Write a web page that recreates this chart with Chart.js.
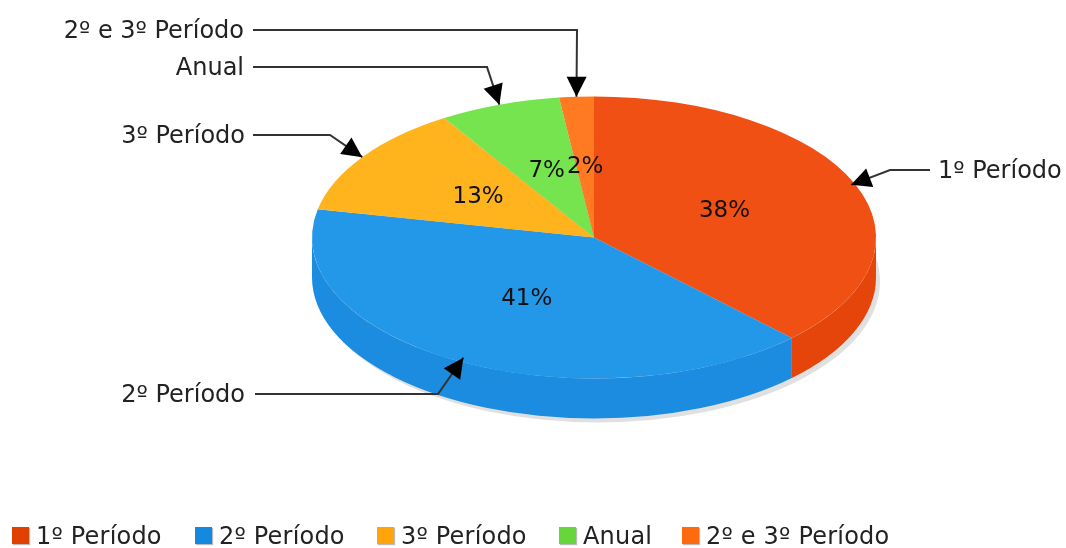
<!DOCTYPE html>
<html>
<head>
<meta charset="utf-8">
<style>
  html, body { margin: 0; padding: 0; background: #fff; }
  #wrap { position: relative; width: 1066px; height: 548px; overflow: hidden; }
  #legend { font: 24px "DejaVu Sans", sans-serif; color: #222; white-space: nowrap; letter-spacing: 0.2px; }
  .item { position: absolute; top: 521px; height: 30px; display: flex; align-items: center; }
  .box { width: 17px; height: 17px; margin-right: 7px; margin-top: -1px; box-shadow: 1px 1px 1px #bbb; }
</style>
</head>
<body>
<div id="wrap">
  <canvas id="chart" width="1066" height="548"></canvas>
  <div id="legend"></div>
</div>
<script src="https://cdn.jsdelivr.net/npm/chart.js@4/dist/chart.umd.js"></script>
<script>
// Chart data
const categories = ['1º Período', '2º Período', '3º Período', 'Anual', '2º e 3º Período'];
const values = [38, 41, 13, 7, 2];

// Slice colours: top surface, side wall, legend box
const topColors = ['#F05014', '#2398E8', '#FFB31D', '#76E44E', '#FF7A20'];
const wallColors = ['#E5450A', '#1B8CE0', '#F5A50F', '#66D63A', '#F56A10'];
const legendColors = ['#E04000', '#1588E0', '#FFA40A', '#66D63A', '#FF6A10'];

// Where the flattened pie sits on the page
const pie = { cx: 594, cy: 237.5, rx: 282, ry: 141, depth: 40 };

// Callout text, elbow and arrow reach for each category
const callouts = [
  { x: 938, y: 170, elbowX: 890, lineX: 930, tip: 0.985, align: 'left' },
  { x: 245, y: 394, elbowX: 438, lineX: 255, tip: 0.97, align: 'right' },
  { x: 245, y: 135, elbowX: 330, lineX: 253, tip: 1, align: 'right' },
  { x: 244, y: 67, elbowX: 487, lineX: 253, tip: 1, align: 'right' },
  { x: 244, y: 30, elbowX: 577, lineX: 253, tip: 1, align: 'right' }
];

// Left edge of each legend entry
const legendX = [12, 195, 377, 559, 682];

// Point on the top ellipse for an angle and a fraction of the radius
function ellipsePoint(angle, fraction) {
  return {
    x: pie.cx + pie.rx * fraction * Math.cos(angle),
    y: pie.cy + pie.ry * fraction * Math.sin(angle)
  };
}

// Shadow and side wall, drawn before the slices
function drawWalls(ctx, arcs) {
  ctx.fillStyle = '#E0E0E0';
  ctx.beginPath();
  ctx.ellipse(pie.cx + 4, pie.cy + pie.depth + 4, pie.rx, pie.ry, 0, 0, Math.PI * 2);
  ctx.fill();

  arcs.forEach((arc, i) => {
    const start = Math.max(arc.startAngle, 0);
    const end = Math.min(arc.endAngle, Math.PI);
    if (end <= start) return;
    ctx.fillStyle = wallColors[i];
    ctx.beginPath();
    ctx.ellipse(pie.cx, pie.cy, pie.rx, pie.ry, 0, start, end);
    ctx.ellipse(pie.cx, pie.cy + pie.depth, pie.rx, pie.ry, 0, end, start, true);
    ctx.closePath();
    ctx.fill();
  });
}

function drawArrow(ctx, from, tip) {
  const a = Math.atan2(tip.y - from.y, tip.x - from.x);
  const len = 20, half = 10;
  const bx = tip.x - len * Math.cos(a), by = tip.y - len * Math.sin(a);
  ctx.fillStyle = '#000';
  ctx.beginPath();
  ctx.moveTo(tip.x, tip.y);
  ctx.lineTo(bx - half * Math.sin(a), by + half * Math.cos(a));
  ctx.lineTo(bx + half * Math.sin(a), by - half * Math.cos(a));
  ctx.closePath();
  ctx.fill();
}

// Percent labels and the callouts with their arrows
function drawLabels(ctx, arcs) {
  ctx.textBaseline = 'middle';

  ctx.font = '23px "DejaVu Sans", sans-serif';
  ctx.textAlign = 'center';
  ctx.fillStyle = '#111';
  arcs.forEach((arc, i) => {
    const mid = (arc.startAngle + arc.endAngle) / 2;
    const p = ellipsePoint(mid, 0.5);
    ctx.fillText(values[i] + '%', p.x, p.y);
  });

  ctx.font = '24px "DejaVu Sans", sans-serif';
  callouts.forEach((c, i) => {
    const mid = (arcs[i].startAngle + arcs[i].endAngle) / 2;
    const tip = ellipsePoint(mid, c.tip);
    const elbow = { x: c.elbowX, y: c.y };

    ctx.strokeStyle = '#333';
    ctx.lineWidth = 2;
    ctx.beginPath();
    ctx.moveTo(c.lineX, c.y);
    ctx.lineTo(elbow.x, elbow.y);
    ctx.lineTo(tip.x, tip.y);
    ctx.stroke();
    drawArrow(ctx, elbow, tip);

    ctx.fillStyle = '#222';
    ctx.textAlign = c.align;
    ctx.fillText(categories[i], c.x, c.y + 2);
  });
}

// Flattens the pie controller's arcs into the tilted pie
const tiltPlugin = {
  id: 'tilt',
  beforeDatasetsDraw(chart) {
    const ctx = chart.ctx;
    const arcs = chart.getDatasetMeta(0).data;
    const first = arcs[0];
    ctx.save();
    drawWalls(ctx, arcs);
    ctx.translate(pie.cx, pie.cy);
    ctx.scale(pie.rx / first.outerRadius, pie.ry / first.outerRadius);
    ctx.translate(-first.x, -first.y);
  },
  afterDatasetsDraw(chart) {
    chart.ctx.restore();
    drawLabels(chart.ctx, chart.getDatasetMeta(0).data);
  }
};

new Chart(document.getElementById('chart'), {
  type: 'pie',
  data: {
    labels: categories,
    datasets: [{ data: values, backgroundColor: topColors, borderWidth: 0 }]
  },
  options: {
    responsive: false,
    animation: false,
    layout: { padding: 0 },
    plugins: { legend: { display: false }, tooltip: { enabled: false } }
  },
  plugins: [tiltPlugin]
});

// Legend under the chart
const legendEl = document.getElementById('legend');
categories.forEach((name, i) => {
  const item = document.createElement('div');
  item.className = 'item';
  item.style.left = legendX[i] + 'px';
  const box = document.createElement('div');
  box.className = 'box';
  box.style.background = legendColors[i];
  item.appendChild(box);
  item.appendChild(document.createTextNode(name));
  legendEl.appendChild(item);
});
</script>
</body>
</html>
